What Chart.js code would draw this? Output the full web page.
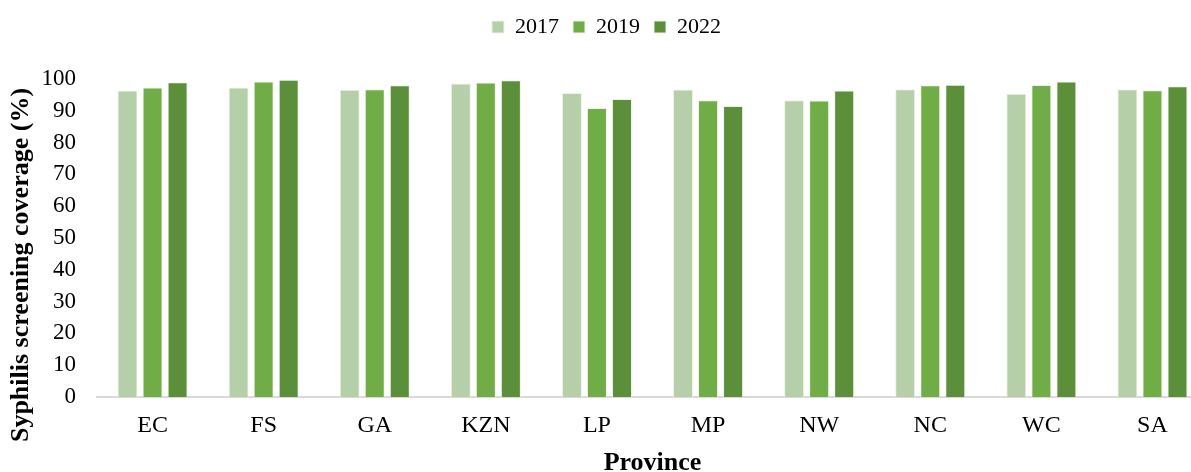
<!DOCTYPE html>
<html>
<head>
<meta charset="utf-8">
<script src="https://cdn.jsdelivr.net/npm/chart.js@4/dist/chart.umd.min.js"></script>
<style>
  html, body { margin: 0; padding: 0; background: #fff; overflow: hidden; }
  #wrap { width: 1212px; height: 479px; }
</style>
</head>
<body>
<div id="wrap"><canvas id="myChart"></canvas></div>
<script>
const provinces = ["EC", "FS", "GA", "KZN", "LP", "MP", "NW", "NC", "WC", "SA"];
const years = ["2017", "2019", "2022"];
const cov2017 = [96.4, 97.3, 96.6, 98.6, 95.6, 96.7, 93.3, 96.8, 95.4, 96.8];
const cov2019 = [97.3, 99.2, 96.8, 98.9, 90.9, 93.3, 93.2, 98.0, 98.1, 96.5];
const cov2022 = [99.0, 99.8, 98.0, 99.6, 93.7, 91.5, 96.4, 98.2, 99.2, 97.7];
const colors = ['#b5cfa8', '#70ad47', '#5b8f3a'];

const serif = "'Liberation Serif', 'Times New Roman', serif";
const yTitle = 'Syphilis screening coverage (%)';

// push the plot down under the legend, like the original
const legendGap = {
  id: 'legendGap',
  beforeInit(chart) {
    const fit = chart.legend.fit;
    chart.legend.fit = function () {
      fit.bind(chart.legend)();
      this.height += 31;
    };
  }
};

// y title sits a bit lower than the plot centre in the original
const sideTitle = {
  id: 'sideTitle',
  afterDraw(chart) {
    const c = chart.ctx;
    c.save();
    c.translate(21, chart.chartArea.bottom - 132);
    c.rotate(-Math.PI / 2);
    c.font = 'bold 26px ' + serif;
    c.fillStyle = '#000';
    c.textAlign = 'center';
    c.textBaseline = 'middle';
    c.fillText(yTitle, 0, 0);
    c.restore();
  }
};

const ctx = document.getElementById('myChart');
new Chart(ctx, {
  type: 'bar',
  data: {
    labels: provinces,
    datasets: [cov2017, cov2019, cov2022].map((d, i) => ({
      label: years[i],
      data: d,
      backgroundColor: colors[i],
      borderColor: '#eef3ea',
      borderWidth: 1,
      categoryPercentage: 0.676,
      barPercentage: 0.8
    }))
  },
  options: {
    responsive: true,
    maintainAspectRatio: false,
    animation: false,
    layout: { padding: { top: 2, right: 4, left: 5, bottom: 0 } },
    plugins: {
      legend: {
        position: 'top',
        labels: {
          font: { family: serif, size: 22 },
          color: '#000',
          boxWidth: 12,
          boxHeight: 12,
          padding: 14
        }
      },
      tooltip: { enabled: false }
    },
    scales: {
      x: {
        grid: { display: false, drawTicks: false },
        border: { display: true, color: '#d9d9d9', width: 2 },
        ticks: { font: { family: serif, size: 24 }, color: '#000', padding: 14 },
        title: {
          display: true, text: 'Province',
          font: { family: serif, size: 26, weight: 'bold' }, color: '#000',
          padding: { top: 6, bottom: 0 }
        },
        afterFit(scale) { scale.height = 82; }
      },
      y: {
        min: 0, max: 100,
        grid: { display: false, drawTicks: false },
        border: { display: false },
        ticks: { stepSize: 10, font: { family: serif, size: 23 }, color: '#000', padding: 21 },
        title: { display: false },
        afterFit(scale) { scale.width = 92; }
      }
    }
  },
  plugins: [legendGap, sideTitle]
});
</script>
</body>
</html>
